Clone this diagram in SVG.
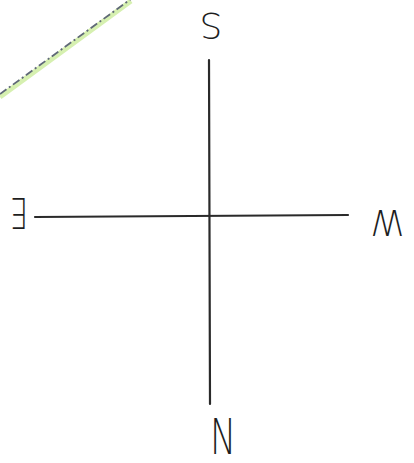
<svg xmlns="http://www.w3.org/2000/svg" width="414" height="463" viewBox="0 0 414 463">
  <style>
    .axis { stroke: #2a2a2a; stroke-width: 2.2; stroke-linecap: round; fill: none; }
    .lbl { font-family: "DejaVu Sans", "Liberation Sans", sans-serif; font-weight: 200; fill: #1e1e1e; text-anchor: middle; }
  </style>
  <rect width="414" height="463" fill="#ffffff"/>
  <g id="pencil-line">
    <line x1="0" y1="97" x2="131" y2="1" stroke="#d6f0b0" stroke-width="5"/>
    <line x1="0" y1="94" x2="131" y2="-1" stroke="#5f6878" stroke-width="1.8" stroke-dasharray="8 3 2 3"/>
  </g>
  <g id="connectors">
    <line class="axis" x1="209" y1="60" x2="210" y2="404"/>
    <line class="axis" x1="35" y1="217" x2="348" y2="215"/>
  </g>
  <g id="label-S">
    <text class="lbl" font-size="36" transform="translate(211 26) rotate(180)" x="0" y="13">S</text>
  </g>
  <g id="label-E">
    <text class="lbl" font-size="42" transform="translate(19 213) rotate(180)" x="0" y="15" textLength="18" lengthAdjust="spacingAndGlyphs">E</text>
  </g>
  <g id="label-W">
    <text class="lbl" font-size="35" transform="translate(387 222) rotate(180)" x="0" y="12.5">W</text>
  </g>
  <g id="label-N">
    <text class="lbl" font-size="50" transform="translate(222 436) rotate(180)" x="0" y="18" textLength="26" lengthAdjust="spacingAndGlyphs">N</text>
  </g>
</svg>
